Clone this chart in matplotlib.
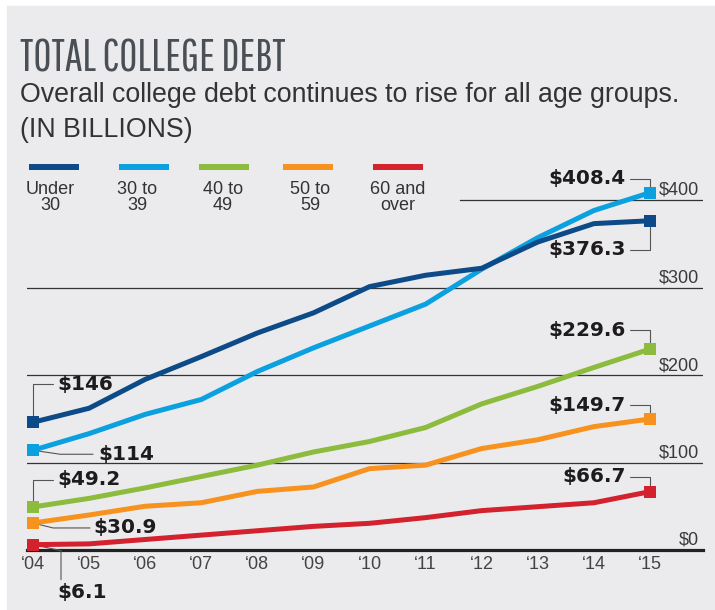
import numpy as np
from matplotlib import pyplot
from matplotlib.lines import Line2D
from matplotlib.patches import Rectangle

# data (billions of dollars)
years = list(range(2004, 2016))
year_labels = ['\u2018%02d' % (y % 100) for y in years]
under_30 = [146, 162, 195, 221, 248, 271, 301, 314, 322, 352, 373, 376.3]
age_30_39 = [114, 133, 155, 172, 204, 231, 256, 281, 321, 357, 388, 408.4]
age_40_49 = [49.2, 59, 71, 84, 97, 112, 124, 140, 167, 187, 208.6, 229.6]
age_50_59 = [30.9, 40, 50, 54, 67, 72, 93, 97, 116, 126, 141, 149.7]
age_60_over = [6.1, 7, 12, 17, 22, 27, 30.5, 37, 45, 49.5, 54, 66.7]
series_names = ['Under\n30', '30 to\n39', '40 to\n49', '50 to\n59', '60 and\nover']
grid_values = [0, 100, 200, 300, 400]

colors = ['#0c4a88', '#0ba0e0', '#8cbb3d', '#f7921e', '#d3212d']
text_color = '#333333'
W, H = 715, 610


def fx(px):
    return px / W


def fy(py):
    return 1 - py / H


fig = pyplot.figure(figsize=(W / 100, H / 100), dpi=100, facecolor='white')
fig.add_artist(Rectangle((fx(7), 0), 1 - fx(7), fy(6), transform=fig.transFigure,
                         color='#ebebed', zorder=-10))

fig.text(fx(20), fy(71), 'TOTAL COLLEGE DEBT',
         family=['Pathway Gothic One', 'Oswald', 'Liberation Sans'],
         fontsize=32, color='#4a4f56', va='baseline')
fig.text(fx(20), fy(102), 'Overall college debt continues to rise for all age groups.',
         family='Liberation Sans', fontsize=19.3, color=text_color, va='baseline')
fig.text(fx(20), fy(137), '(IN BILLIONS)', family='Liberation Sans', fontsize=19.3,
         color=text_color, va='baseline')

# legend
seg_centers = [54, 144, 224, 308, 398]
label_centers = [50, 137, 223, 310, 398]
for name, color, sc, lc in zip(series_names, colors, seg_centers, label_centers):
    fig.add_artist(Line2D([fx(sc - 25), fx(sc + 25)], [fy(167), fy(167)],
                          transform=fig.transFigure, color=color, lw=4.3,
                          solid_capstyle='butt'))
    fig.text(fx(lc), fy(210), name, family='Liberation Sans', fontsize=13,
             color=text_color, ha='center', va='baseline', linespacing=0.9)

ax = fig.add_axes([fx(27), fy(550), fx(703) - fx(27), fy(180) - fy(550)])
ax.patch.set_visible(False)
for s in ax.spines.values():
    s.set_visible(False)
ax.set_ylim(0, 370 / 0.875)
ax.set_xlim(2004 - 6 / 56.09, 2015 + 53 / 56.09)
ax.set_yticks([])
ax.set_xticks(years)
ax.set_xticklabels(year_labels, family='Liberation Sans', fontsize=13, color='#444444')
ax.tick_params(axis='x', length=0, pad=4)

for v in grid_values:
    if v == 0:
        ax.axhline(v, color='#222222', lw=2.3, clip_on=False, zorder=1)
    elif v == 400:
        ax.axhline(v, xmin=(460 - 27) / 676, color='#333333', lw=0.9, zorder=1)
    else:
        ax.axhline(v, color='#333333', lw=0.9, zorder=1)
    ax.annotate('$%d' % v, xy=(1, v), xycoords=('axes fraction', 'data'),
                xytext=(-4, 5), textcoords='offset pixels', ha='right', va='baseline',
                family='Liberation Sans', fontsize=13, color='#3a3a3a')

all_series = [under_30, age_30_39, age_40_49, age_50_59, age_60_over]
for i in reversed(range(5)):
    vals = all_series[i]
    ax.plot(years, vals, color=colors[i], lw=3.6, solid_joinstyle='round',
            clip_on=False, zorder=3 + (5 - i))
    ax.plot([years[0], years[-1]], [vals[0], vals[-1]], 's', ms=8, mew=0,
            color=colors[i], clip_on=False, zorder=10)

# leader offsets in pixels: (corner/end of leader), angle at point, (text position)
start_notes = [
    ((20, 38), 90, (24, 38)),
    ((60, -4), -8.4, (65, -4)),
    ((20, 27), 90, (24, 27)),
    ((57, -5), -14, (60, -5)),
]
end_notes = [
    ((-20, -29), 90, (-24, -29)),
    ((-20, 14), 90, (-24, 14)),
    ((-20, 19), 90, (-24, 19)),
    ((-20, 14), 90, (-24, 14)),
    ((-20, 15), 90, (-24, 15)),
]
lead = dict(arrowstyle='-', color='#555555', lw=0.8, shrinkA=0, shrinkB=0)
bold = dict(family='DejaVu Sans', fontweight='bold', fontsize=14.4, color='#1e1b1c')

for i, (end, angle, txt) in enumerate(start_notes):
    v = all_series[i][0]
    ax.annotate('', xy=(years[0], v), xytext=end, textcoords='offset pixels',
                arrowprops=dict(connectionstyle='angle,angleA=0,angleB=%g,rad=0' % angle, **lead))
    ax.annotate('$%g' % v, xy=(years[0], v), xytext=txt, textcoords='offset pixels',
                ha='left', va='center', **bold)

# $6.1 label hangs below the baseline
v = age_60_over[0]
ax.annotate('', xy=(years[0], v), xytext=(28, -35), textcoords='offset pixels',
            arrowprops=dict(connectionstyle='angle,angleA=90,angleB=-12,rad=0', **lead))
ax.annotate('$%g' % v, xy=(years[0], v), xytext=(24, -48), textcoords='offset pixels',
            ha='left', va='center', **bold)

for i, (end, angle, txt) in enumerate(end_notes):
    v = all_series[i][-1]
    ax.annotate('', xy=(years[-1], v), xytext=end, textcoords='offset pixels',
                arrowprops=dict(connectionstyle='angle,angleA=0,angleB=%g,rad=0' % angle, **lead))
    ax.annotate('$%g' % v, xy=(years[-1], v), xytext=txt, textcoords='offset pixels',
                ha='right', va='center', **bold)

fig.savefig('out.png', dpi=100, facecolor=fig.get_facecolor())
